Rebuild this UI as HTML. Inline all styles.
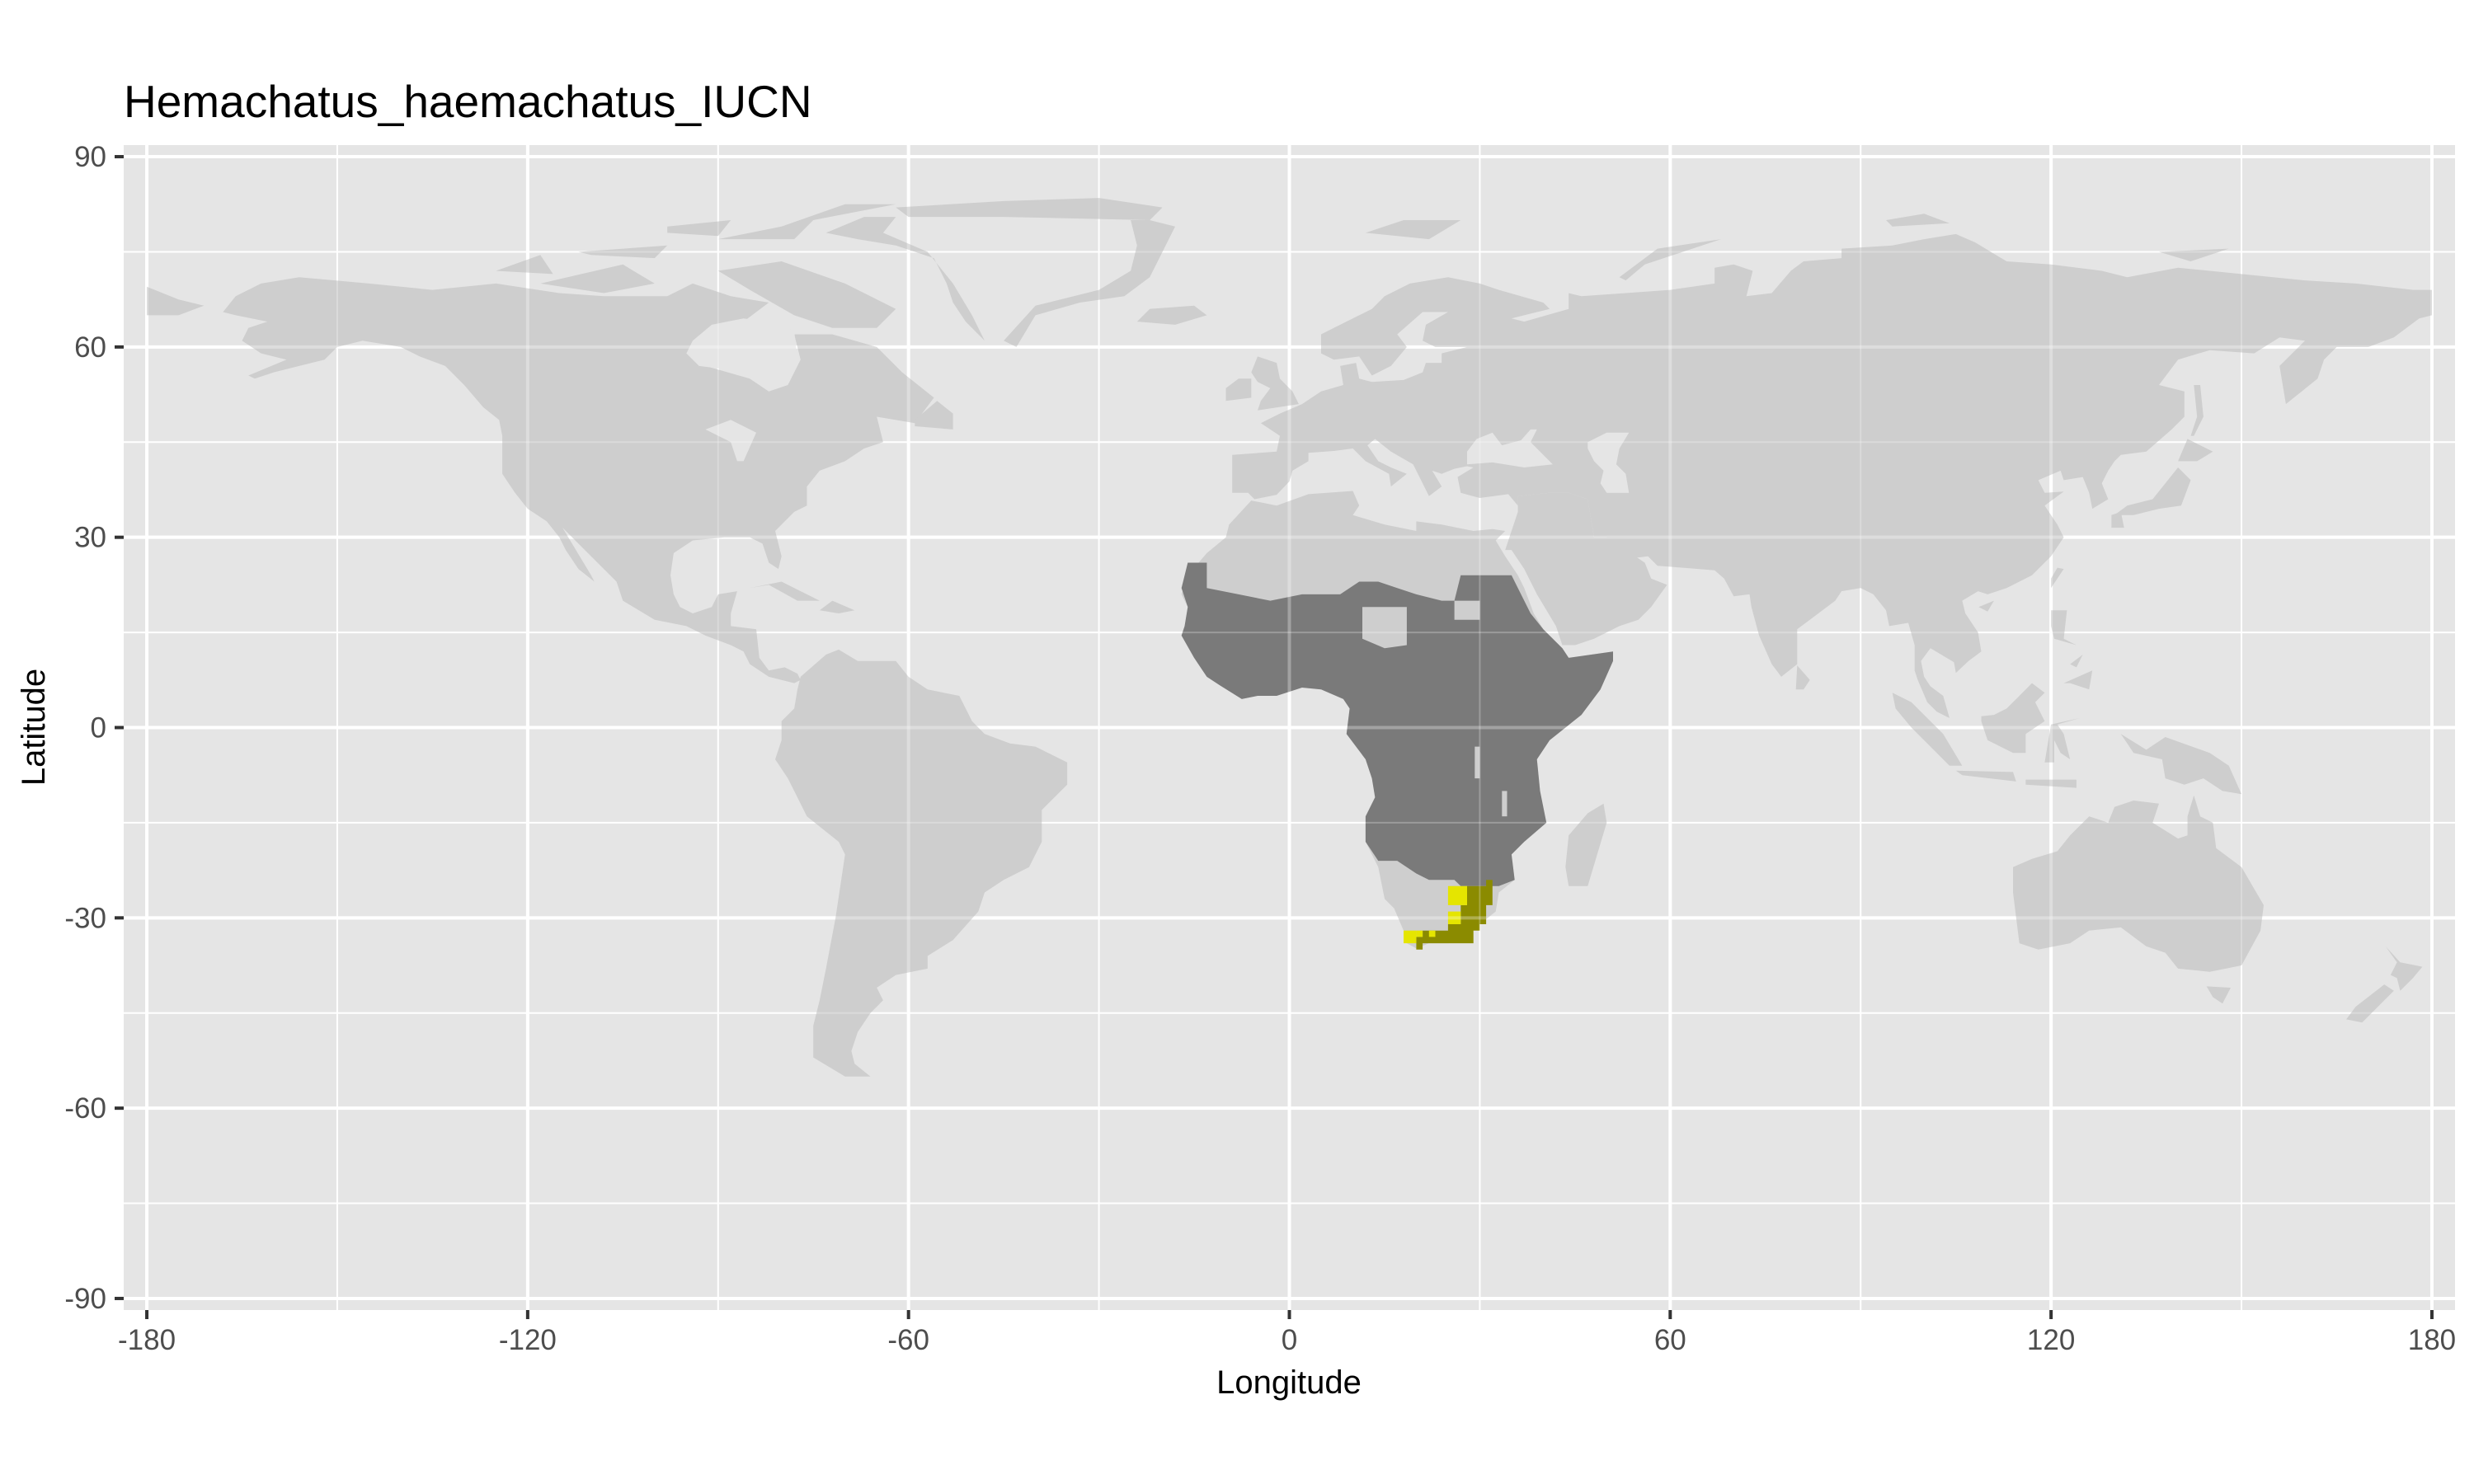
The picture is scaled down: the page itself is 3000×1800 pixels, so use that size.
<!DOCTYPE html>
<html><head><meta charset="utf-8">
<style>
html,body{margin:0;padding:0;background:#fff;}
svg{display:block;font-family:"Liberation Sans",Arial,sans-serif;}
</style></head>
<body>
<svg id="chart" width="3000" height="1800" viewBox="0 0 3000 1800" xmlns="http://www.w3.org/2000/svg">
<rect x="0" y="0" width="3000" height="1800" fill="#ffffff"/>
<text x="150" y="142" font-size="55" fill="#000">Hemachatus_haemachatus_IUCN</text>
<rect x="150" y="176" width="2827" height="1413" fill="#e5e5e5"/>
<g id="grid"></g>
<g id="land"></g>
<g id="grid2"></g>
<g id="axes"></g>
<text x="1563" y="1690" font-size="40" text-anchor="middle" fill="#000">Longitude</text>
<text x="0" y="0" font-size="40" text-anchor="middle" fill="#000" transform="translate(54,882) rotate(-90)">Latitude</text>
</svg>
<script>
const xTicks = [-180,-120,-60,0,60,120,180];
const yTicks = [-90,-60,-30,0,30,60,90];
const xMinor = [-150,-90,-30,30,90,150];
const yMinor = [-75,-45,-15,15,45,75];

const landPolys = [
 [[-166,68],[-162,70],[-156,71],[-145,70],[-135,69],[-125,70],[-115,68.5],[-108,68],[-98,68],[-94,70],[-88,68],[-82,67],[-86,64],[-92,62],[-94,59],[-92,57],[-85,55],[-82,53],[-79,54],[-77,58],[-78,62],[-72,62],[-65,60],[-61,56],[-56,52],[-59,48],[-65,49],[-64,45],[-67,44],[-70,42],[-74,40.5],[-76,38],[-76,35],[-78,34],[-81,31],[-80,27],[-80.5,25],[-82,26],[-83,29],[-85,30],[-89,30],[-94,29.5],[-97,27.5],[-97.5,24],[-97,21],[-96,19],[-94,18],[-91,19],[-90,21],[-87,21.5],[-88,18],[-88,16],[-84,15.5],[-83.5,11],[-82,9],[-79.5,9.5],[-77.5,8.5],[-77,7.5],[-78,7],[-80,7.5],[-82,8],[-85,10],[-86,12],[-88,13],[-92,14.5],[-95,16],[-100,17],[-105,20],[-106,23],[-109,26],[-112,29],[-114.5,31.5],[-113,29],[-110,24],[-109.5,23],[-112,25],[-114,28],[-115,30],[-117,32.5],[-120,34.5],[-122,37],[-124,40],[-124,46],[-124.5,48.5],[-127,50.5],[-130,54],[-133,57],[-137,58.5],[-140,60],[-146,61],[-150,60],[-152,58],[-156,57],[-160,56],[-163,55],[-164,55.5],[-158,58],[-162,59],[-165,61],[-164,63],[-161,64],[-166,65],[-168,65.5]],
 [[-62,82],[-45,83],[-30,83.5],[-20,82],[-22,80],[-45,80.5],[-60,80.5]],
 [[-73,78],[-67,80.5],[-62,80.5],[-64,78],[-57,75],[-53,70],[-50,65],[-48,61],[-51,64],[-53,67],[-54,70],[-56,74],[-62,76],[-68,77]],
 [[-22,80],[-18,79],[-20,75],[-22,71],[-26,68],[-33,67],[-40,65],[-43,60],[-45,61],[-40,66.5],[-30,69],[-25,72],[-24,76],[-25,80]],
 [[-90,72],[-80,73.5],[-70,70],[-62,66],[-65,63],[-72,63],[-78,65],[-85,69]],
 [[-90,77],[-80,79],[-70,82.5],[-62,82.5],[-75,80],[-78,77]],
 [[-118,70],[-105,73],[-100,70],[-108,68.5]],
 [[-125,72],[-118,74.5],[-116,71.5]],
 [[-112,75],[-98,76],[-100,74],[-110,74.5]],
 [[-98,79],[-88,80],[-90,77.5],[-98,78]],
 [[-59,47.5],[-53,47],[-53,49.5],[-55.5,51.5],[-59,48.5]],
 [[-85,22],[-80,23],[-74,20],[-77.5,20],[-82,22.5]],
 [[-74,18.5],[-72,20],[-68.5,18.5],[-71,18]],
 [[-180,65],[-180,69.5],[-175,67.5],[-171,66.5],[-175,65]],
 [[-77,8],[-73,11.5],[-71,12.3],[-68,10.5],[-62,10.5],[-60,8],[-57,6],[-52,5],[-50,1],[-48,-1],[-44,-2.5],[-40,-3],[-35,-5.5],[-35,-9],[-39,-13],[-39,-18],[-41,-22],[-45,-24],[-48,-26],[-49,-29],[-53,-33.5],[-57,-36],[-57,-38],[-62,-39],[-65,-41],[-64,-43],[-66,-45],[-68,-48],[-69,-51],[-68.5,-53],[-66,-55],[-70,-55],[-75,-52],[-75,-47],[-74,-43],[-73,-38],[-71.5,-30],[-70,-20],[-71,-18],[-76,-14],[-79,-8],[-81,-5],[-80,-2],[-80,1],[-78,3],[-77.5,6]],
 [[-17,21],[-16,24],[-13,27.5],[-10,30],[-9.5,32],[-6,35.8],[-2,35],[3,36.8],[10,37.3],[11,35],[10,33.5],[15,32],[20,31],[20,32.5],[24,32],[29,31],[32,31.3],[34,31],[32.5,29.5],[34,27],[36,24],[37,22],[38.5,18],[40,15.5],[43,12.5],[44,11],[51,12],[51,10.5],[49,6],[46,2],[41,-2],[39,-5],[39.5,-10],[40.5,-15],[37,-18],[35,-20],[35.5,-24],[33,-26],[32.5,-29],[30,-31],[27,-33.8],[25,-34],[22,-34],[20,-34.8],[18.5,-34],[18,-32],[16.5,-28.5],[15,-27],[14,-22],[12,-18],[12,-14],[13.5,-11],[13,-8],[12,-5],[9,-1],[9.5,3],[8.5,4.5],[5,6],[2,6.3],[-2,5],[-5,5],[-7.5,4.5],[-11,6.7],[-13,8],[-15,11],[-17,14.5],[-16.5,16],[-16,19]],
 [[44,-25],[47,-25],[50,-15],[49.5,-12],[47,-13.5],[44,-17],[43.5,-22]],
 [[34,28],[35,31],[36,34],[36,36.5],[41,37],[44,37],[47,36],[48,30],[50,30],[56,26],[57,23.5],[59.5,22.5],[57,19],[55,17],[52,16],[48,14],[45,13],[43,13],[42,16],[39,21],[37,25],[35,28]],
 [[-9,37],[-9,43],[-2,43.5],[-1.5,46],[-4.5,48],[-1.5,49.5],[2,51],[5,53],[8.5,54],[8,57],[10.5,57.5],[11,55],[13,54.5],[18,54.8],[21,56],[21.5,57.5],[24,57.5],[24,59],[28,60],[23,60],[21,61],[21.5,63.5],[25,65.5],[21,65.5],[17,62],[18.5,60],[16,57],[13,55.5],[11,58.5],[7,58],[5,59],[5,62],[8,63.5],[13,66],[15,68],[19,70],[25,71],[30,70],[33,69],[40,67],[41,66],[35,64.5],[37,64],[44,66],[44,68.5],[46,68],[53,68.5],[60,69],[67,70],[67,72.5],[70,73],[73,72],[72,68],[76,68.5],[79,72],[81,73.5],[87,74],[87,75.5],[95,76],[100,77],[105,77.8],[108,76.5],[113,73.5],[120,73],[128,72],[132,71],[140,72.5],[150,71.5],[160,70.5],[168,70],[177,69],[180,69],[180,65],[178,64.5],[174,61.5],[170,60],[165,60],[163,58],[162,55],[157,51],[156,57],[160,61],[156,61.5],[152,59],[145,59.5],[140,58],[137,54],[141,53],[141,49],[139,47],[135,43.5],[131,43],[130,42],[129,40.5],[128,38.5],[129,36],[126.5,34.5],[126,37],[125,39.5],[122,39],[121.5,40.5],[118,39],[119,37],[122,37.2],[119,35],[121,32],[122,30],[120,27],[117,24],[113,22],[110,21],[108.5,21.5],[106,20],[106.5,18],[108.5,15],[109,12],[107,10.5],[105,8.6],[104.7,10.3],[101,12.5],[99.5,10.5],[100,8],[101,6.5],[103,5],[104,1.5],[102,2.5],[100.5,4],[99,7.5],[98.5,9],[98.5,13],[97.5,16.5],[94.5,16],[94,18.5],[92,21],[90,22],[87,21.5],[86,20],[82,17],[80,15.5],[80,10],[77.5,8],[76,10],[74,14.5],[72.8,19],[72.5,21],[70,20.7],[68.5,23.5],[67,24.8],[62,25.2],[58,25.5],[56.5,27],[54,26.7],[51,28],[50,30],[48,30],[47,36],[44,37],[41,37],[36,36.5],[36,35],[34.5,36.8],[30,36.2],[27,37],[26.5,39.5],[29,41],[28,41.2],[26,40.8],[24,40],[22.5,40.5],[24,38],[22,36.5],[21,38.5],[19.5,41.5],[16,43.5],[13.5,45.5],[12.3,44.5],[14,42],[16,41],[18.5,40],[16,38],[15.7,40],[12,42],[10,44],[7,43.6],[3,43.3],[3,42],[0.5,40.5],[0,38.8],[-2,36.7],[-5.5,36],[-6.5,37]],
 [[-5,50],[1.5,51],[0.5,53],[-1.5,55],[-2,57.5],[-5,58.5],[-6,56],[-5,54.5],[-3,53.5],[-4.5,51.5]],
 [[-10,51.5],[-6,52],[-6,55],[-8,55],[-10,53.5]],
 [[-24,64],[-22,66],[-15,66.5],[-13,65],[-18,63.5]],
 [[12,78],[18,80],[27,80],[22,77]],
 [[52,71],[58,75.5],[68,77],[56,73],[53,70.5]],
 [[95,79],[104,79.5],[100,81],[94,80]],
 [[137,75],[148,75.5],[142,73.5]],
 [[130,33.5],[132,35],[136,36],[140,41],[142,39],[140.5,35],[137,34.5],[133,33.5]],
 [[129.5,31.5],[131.5,31.5],[131,34],[129.5,33.5]],
 [[140,42],[141.5,45.5],[145.5,43.5],[143,42]],
 [[142,46],[143,49],[142.5,54],[143.5,54],[144,49],[142.5,46]],
 [[120,22],[122,25],[121,25.2],[120,23.5]],
 [[108.6,19],[111,20],[110,18.3]],
 [[120,18.5],[122.5,18.5],[122,14],[124,13],[120.5,14],[120,16]],
 [[122,7],[126.5,9],[126,6],[123,7]],
 [[123,10],[125,11.5],[124,9.5]],
 [[79.8,6],[80,9.8],[82,7.5],[81,6]],
 [[109,1],[110,-2],[114,-4],[116,-4],[116,-1],[119,1],[117.5,4],[119,5.5],[117,7],[115,5],[113,3],[111,2],[109,1.8]],
 [[95,5.5],[98,4],[103,-1],[106,-6],[104,-6],[101,-3],[98,0],[95.5,3]],
 [[105,-6.8],[114,-7],[114.5,-8.5],[106,-7.5]],
 [[116,-8.2],[124,-8.2],[124,-9.5],[116,-9]],
 [[119,-5.5],[120,0.5],[124.5,1.5],[121,0.5],[122,-1],[123,-5],[121.5,-4],[120.5,-2],[120.5,-5.5]],
 [[131,-1],[135,-3.5],[138,-1.5],[145,-4],[148,-6],[150,-10.5],[147,-10],[144,-8],[141,-9],[138,-8],[137.5,-5],[133,-4]],
 [[114,-22],[114,-26],[115,-34],[118,-35],[123,-34],[126,-32],[131,-31.5],[135,-34.5],[138,-35.5],[140,-38],[145,-38.5],[150,-37.5],[153,-32],[153.5,-28],[150,-22],[146,-19],[145.5,-15],[143.5,-14],[142.5,-10.7],[141.5,-14],[141.5,-17],[140,-17.5],[136,-15],[137,-12],[133,-11.5],[130,-12.5],[129,-15],[126,-14],[123,-17],[121,-19.5],[117,-20.7]],
 [[144.5,-40.8],[148.3,-41],[147,-43.5],[145.5,-42.5]],
 [[172.7,-34.5],[175,-37],[178.5,-37.7],[177,-39.5],[175,-41.5],[174.5,-39.5],[173.5,-39],[174.5,-37]],
 [[172.5,-40.5],[174,-41.5],[171,-44.5],[169,-46.5],[166.5,-46],[168,-44]]
];
const waterPolys = [
 [[-95,59],[-94,61],[-91,63.5],[-86,64.5],[-82,64],[-78,62.5],[-77.5,58],[-79,55],[-82,53],[-85,55],[-89,56.5],[-93,57]],
 [[47,45],[50,46.5],[53.5,46.5],[52,44],[51.5,41.5],[53,40],[53.5,37],[50,37],[49,38.5],[49.5,40.5],[48,42],[47,44]],
 [[28,41.5],[28,43.5],[29.5,45.5],[32,46.5],[33.5,44.5],[36.5,45.3],[38,47],[39,47],[38,45],[41.5,41.5],[37,41],[32,41.8]],
 [[-86,42],[-84,46.5],[-88,48.5],[-92,47],[-88,45],[-87,42]]
];
const rangePoly = [[-17,22],[-16,26],[-13,26],[-13,22],[-8,21],[-3,20],[2,21],[8,21],[11,23],[14,23],[17,22],[20,21],[24,20],[26,20],[27,24],[35,24],[36,22],[38,18],[40,15.5],[43,12.5],[44,11],[51,12],[51,10.5],[49,6],[46,2],[41,-2],[39,-5],[39.5,-10],[40.5,-15],[37,-18],[35,-20],[35.5,-24],[33,-25],[31,-25],[27,-25],[26,-24],[22,-24],[20,-23],[17,-21],[14,-21],[12,-18],[12,-14],[13.5,-11],[13,-8],[12,-5],[9,-1],[9.5,3],[8.5,4.5],[5,6],[2,6.3],[-2,5],[-5,5],[-7.5,4.5],[-11,6.7],[-13,8],[-15,11],[-17,14.5],[-16.5,16],[-16,19]];
const rangeHoles = [
 [[11.5,19],[18.5,19],[18.5,13],[15,12.5],[11.5,14]],
 [[26,20],[30,20],[30,17],[26,17]],
 [[29.2,-3],[30,-3],[30,-8],[29.2,-8]],
 [[33.5,-10],[34.3,-10],[34.3,-14],[33.5,-14]]
];
const olivePoly = [[31,-24],[32,-24],[32,-28],[31,-28],[31,-31],[30,-31],[30,-32],[29,-32],[29,-34],[21,-34],[21,-35],[20,-35],[20,-33],[21,-33],[21,-32],[25,-32],[25,-31],[27,-31],[27,-28],[28,-28],[28,-25],[31,-25]];
const yellowRects = [[25,-25,28,-28],[25,-29,27,-31],[18,-32,20,-34],[20,-32,21,-33],[22,-32,23,-33]];

const X0 = 1563.5, KX = 7.697, Y0 = 882.5, KY = 7.694;
const sx = lon => X0 + lon*KX;
const sy = lat => Y0 - lat*KY;
const NS = "http://www.w3.org/2000/svg";
function mk(tag, parent){ const e = document.createElementNS(NS, tag); parent.appendChild(e); return e; }
const ptsStr = p => p.map(q => sx(q[0]).toFixed(1)+","+sy(q[1]).toFixed(1)).join(" ");

const grid = document.getElementById('grid');
const grid2 = document.getElementById('grid2');
const PL=150, PR=2977, PT=176, PB=1589;
function gridLine(g, horiz, v, w, op){
  const l = mk('line', g);
  if(horiz){ l.setAttribute('x1',PL); l.setAttribute('x2',PR); l.setAttribute('y1',sy(v)); l.setAttribute('y2',sy(v)); }
  else { l.setAttribute('y1',PT); l.setAttribute('y2',PB); l.setAttribute('x1',sx(v)); l.setAttribute('x2',sx(v)); }
  l.setAttribute('stroke','#ffffff'); l.setAttribute('stroke-width',w); l.setAttribute('stroke-opacity',op);
  
  
}
xMinor.forEach(v=>gridLine(grid,false,v,2,1)); yMinor.forEach(v=>gridLine(grid,true,v,2,1));
xTicks.forEach(v=>gridLine(grid,false,v,4,1)); yTicks.forEach(v=>gridLine(grid,true,v,4,1));

const land = document.getElementById('land');
function poly(pts, fill, name){
  const p = mk('polygon', land);
  p.setAttribute('points', ptsStr(pts)); p.setAttribute('fill', fill);
  
  
}
landPolys.forEach(p=>poly(p,'#cecece','land-area'));
waterPolys.forEach(p=>poly(p,'#e5e5e5','water-body'));
poly(rangePoly,'#7a7a7a','species-range');
rangeHoles.forEach(p=>poly(p,'#cecece','range-gap'));
poly(olivePoly,'#8b8b00','range-core-olive');
yellowRects.forEach(r=>poly([[r[0],r[1]],[r[2],r[1]],[r[2],r[3]],[r[0],r[3]]],'#e5e500','range-core-yellow'));

xMinor.forEach(v=>gridLine(grid2,false,v,2,0.25)); yMinor.forEach(v=>gridLine(grid2,true,v,2,0.25));
xTicks.forEach(v=>gridLine(grid2,false,v,4,0.3)); yTicks.forEach(v=>gridLine(grid2,true,v,4,0.3));

const axes = document.getElementById('axes');
xTicks.forEach(v=>{
  const t = mk('line', axes);
  t.setAttribute('x1',sx(v)); t.setAttribute('x2',sx(v)); t.setAttribute('y1',PB); t.setAttribute('y2',PB+11);
  t.setAttribute('stroke','#333'); t.setAttribute('stroke-width',4);
  
  
  const s = mk('text', axes);
  s.setAttribute('x',sx(v)); s.setAttribute('y',1637); s.setAttribute('font-size',35);
  s.setAttribute('text-anchor','middle'); s.setAttribute('fill','#4d4d4d');
  s.textContent = v;
  
  
});
yTicks.forEach(v=>{
  const t = mk('line', axes);
  t.setAttribute('x1',PL-11); t.setAttribute('x2',PL); t.setAttribute('y1',sy(v)); t.setAttribute('y2',sy(v));
  t.setAttribute('stroke','#333'); t.setAttribute('stroke-width',4);
  
  
  const s = mk('text', axes);
  s.setAttribute('x',129); s.setAttribute('y',sy(v)+12); s.setAttribute('font-size',35);
  s.setAttribute('text-anchor','end'); s.setAttribute('fill','#4d4d4d');
  s.textContent = v;
  
  
});
</script>
</body></html>
